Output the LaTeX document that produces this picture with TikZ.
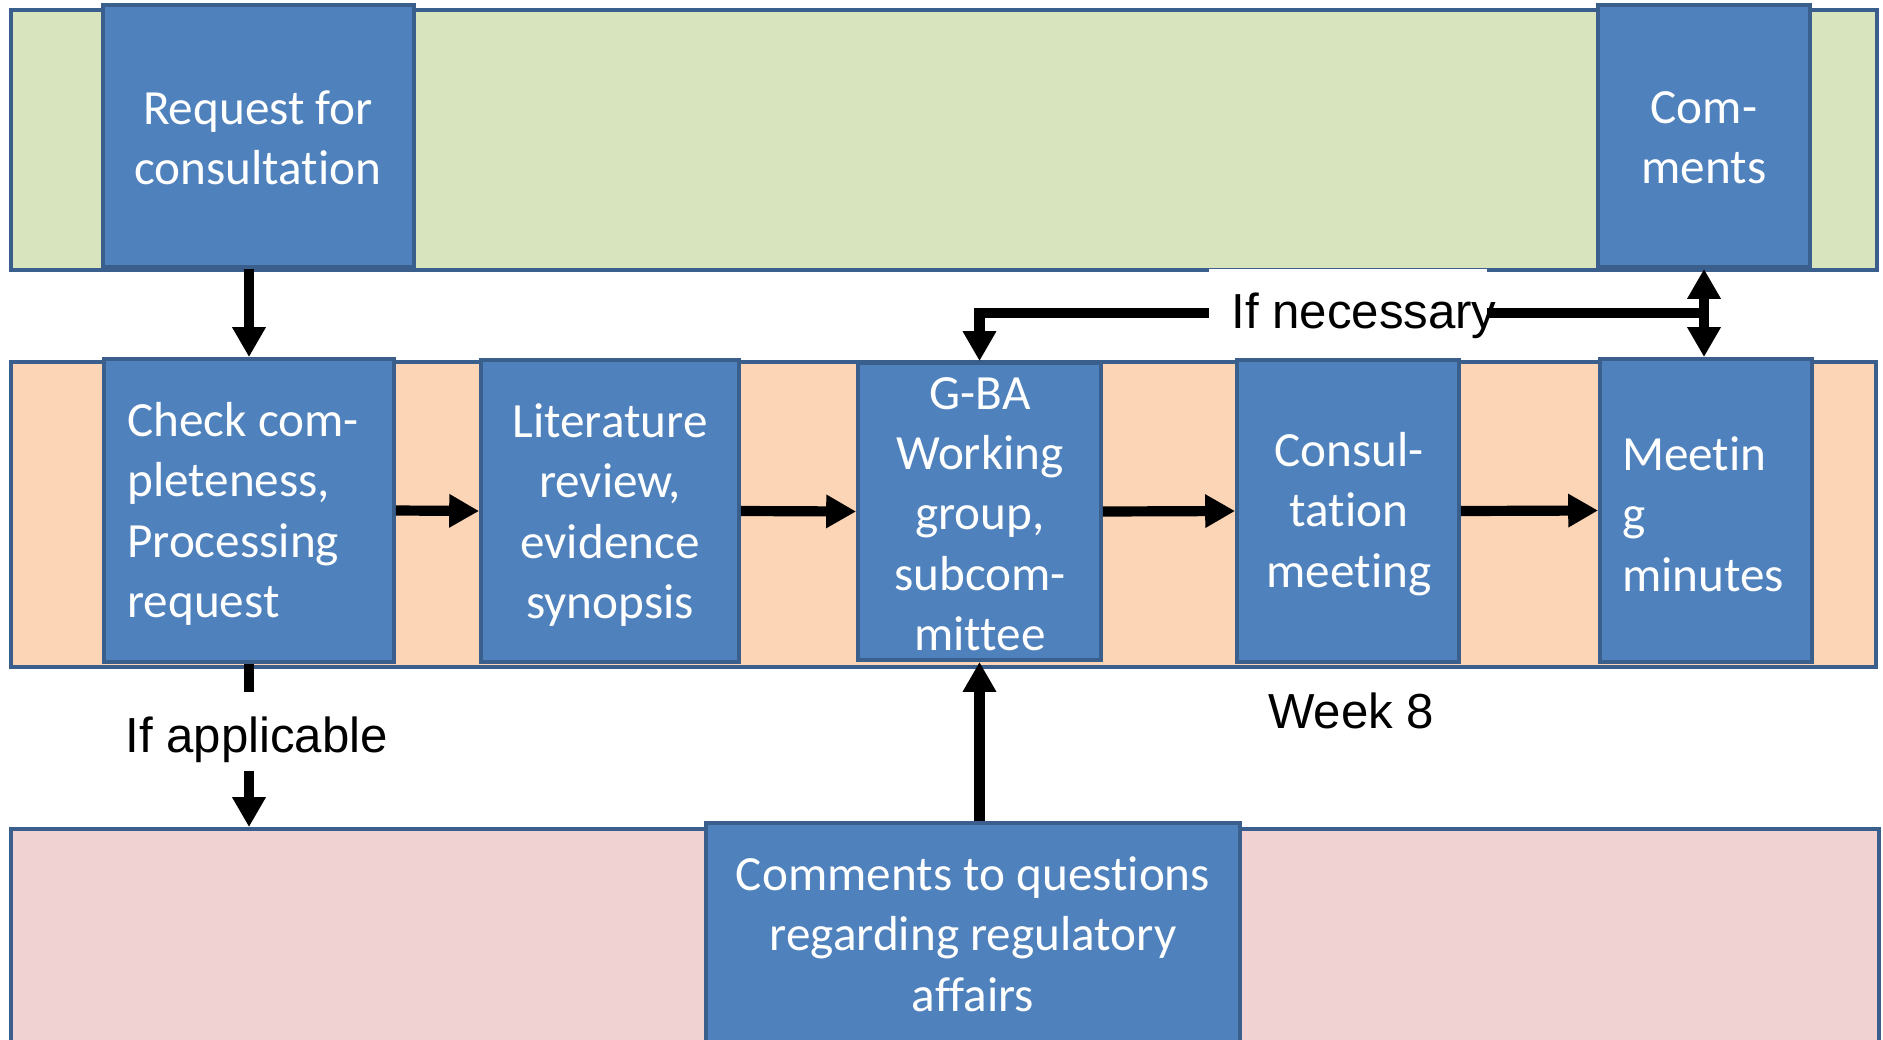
\documentclass[tikz,border=0pt]{standalone}
\usepackage{fontspec}
\setmainfont{Liberation Sans}
\newfontfamily\boxfont{Carlito}[Ligatures=NoCommon]
\usetikzlibrary{arrows.meta,fit}
\definecolor{bordc}{HTML}{3A5F8C}
\definecolor{boxblue}{HTML}{4F81BD}
\definecolor{bandgreen}{HTML}{D7E4BD}
\definecolor{bandorange}{HTML}{FBD5B5}
\definecolor{bandpink}{HTML}{F0D2D3}
\begin{document}
\begin{tikzpicture}[x=0.02cm,y=-0.02cm,
  band/.style={draw=bordc,line width=2.2pt,inner sep=0pt},
  bluebox/.style={draw=bordc,fill=boxblue,line width=2.2pt,inner sep=0pt},
  boxtxt/.style={inner sep=0pt,text=white,align=center,font=\boxfont\fontsize{28}{34.3}\selectfont},
  arr/.style={line width=5.8pt,-{Triangle[length=17pt,width=18pt]}},
  darr/.style={line width=5.8pt,{Triangle[length=17pt,width=18pt]}-{Triangle[length=17pt,width=18pt]}},
  conn/.style={line width=5.8pt},
  lbl/.style={inner sep=0pt,font=\fontsize{28}{34}\selectfont}]
\useasboundingbox (0,0) rectangle (1883,1039);
% bands
\node[band,fill=bandgreen,fit={(11,10) (1877,270)}] (green) {};
\node[band,fill=bandorange,fit={(11,362) (1876,667)}] (orange) {};
\node[band,fill=bandpink,fit={(11,829) (1879,1050)}] (pink) {};
% boxes
\node[bluebox,fit={(103,5) (414,267)}] (req) {};
\node[bluebox,fit={(1598,5) (1810,267)}] (com) {};
\node[bluebox,fit={(104,359) (394,662)}] (check) {};
\node[bluebox,fit={(481,360) (739,662)}] (lit) {};
\node[bluebox,fit={(858,363) (1101,660)}] (gba) {};
\node[bluebox,fit={(1237,360) (1459,662)}] (cons) {};
\node[bluebox,fit={(1600,359) (1812,662)}] (meet) {};
\node[bluebox,fit={(706,823) (1240,1045)}] (cq) {};
% box texts
\node[boxtxt] (reqt) at (258,138) {Request for\\consultation};
\node[boxtxt] (comt) at (com.center |- reqt) {Com-\\ments};
\node[boxtxt,align=left] (checkt) at (243,514) {Check com-\\pleteness,\\Processing\\request};
\node[boxtxt] (litt) at (610,515) {Literature\\review,\\evidence\\synopsis};
\node[boxtxt] (gbat) at (980,514) {G-BA\\Working\\group,\\subcom-\\mittee};
\node[boxtxt] (const) at (1349,514) {Consul-\\tation\\meeting};
\node[boxtxt,align=left] (meett) at (1703,514) {Meetin\\g\\minutes};
\node[boxtxt] (cqt) at (973,934) {Comments to questions\\regarding regulatory\\affairs};
% connectors
\draw[arr] (req.south -| check.north) -- (check.north);
\draw[arr] (check.east) -- (lit.west);
\draw[arr] (lit.east) -- (gba.west);
\draw[arr] (gba.east) -- (cons.west);
\draw[arr] (cons.east) -- (meet.west);
\draw[darr] (com.south) -- (com.south |- meet.north);
\coordinate (necj) at (com.south |- 0,313);
\draw[arr] (necj) -| (gba.north);
\draw[arr] (cq.north -| gba.south) -- (gba.south);
\coordinate (applA) at (check.south |- 0,692);
\coordinate (applB) at (check.south |- 0,771);
\draw[conn] (check.south) -- (applA);
\draw[arr] (applB) -- (check.south |- pink.north);
% labels
\node[fill=white,inner sep=0pt,fit={(1209,269) (1487,345)}] (necbg) {};
\node[lbl,anchor=base west] (nec) at (1231,328) {If necessary};
\node[lbl,anchor=base west] (appl) at (125,752) {If applicable};
\node[lbl,anchor=base west] (week) at (1268,728) {Week 8};
\end{tikzpicture}
\end{document}
